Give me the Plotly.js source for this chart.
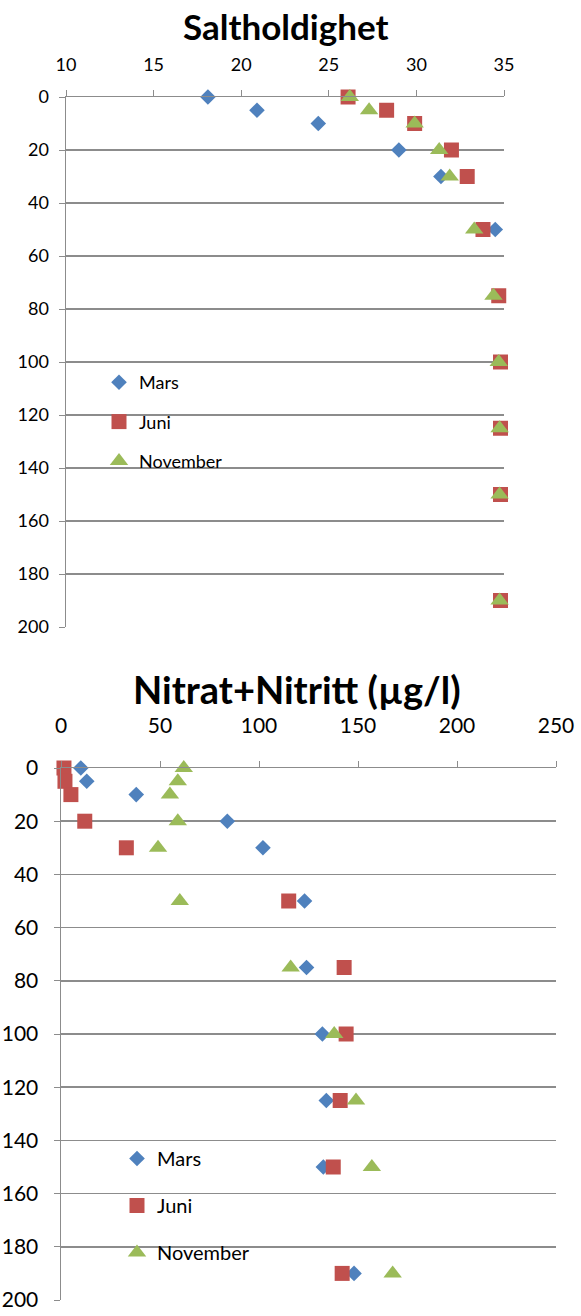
<!DOCTYPE html>
<html><head><meta charset="utf-8">
<script src="https://cdn.plot.ly/plotly-3.0.1.min.js"></script>
<style>html,body{margin:0;padding:0;background:#fff}#chart{width:581px;height:1316px}</style>
</head><body><div id="chart"></div>
<script>
// Saltholdighet (salinity) by depth
const saltDepthMars = [0, 5, 10, 20, 30, 50];
const saltMars = [18.1, 20.9, 24.4, 29.0, 31.4, 34.5];
const saltDepthJuni = [0, 5, 10, 20, 30, 50, 75, 100, 125, 150, 190];
const saltJuni = [26.1, 28.3, 29.9, 32.0, 32.9, 33.8, 34.7, 34.8, 34.8, 34.8, 34.8];
const saltDepthNov = [0, 5, 10, 20, 30, 50, 75, 100, 125, 150, 190];
const saltNov = [26.2, 27.3, 29.9, 31.3, 31.9, 33.3, 34.4, 34.7, 34.75, 34.75, 34.75];

// Nitrat+Nitritt by depth
const nitDepth = [0, 5, 10, 20, 30, 50, 75, 100, 125, 150, 190];
const nitMars = [10, 13, 38, 84, 102, 123, 124, 132, 134, 132.5, 148];
const nitJuni = [1.5, 2, 5, 12, 33, 115, 143, 144, 141, 137.5, 142];
const nitNov = [62, 59, 55, 59, 49, 60, 116, 138, 149, 157, 167.5];

const seriesNames = ['Mars', 'Juni', 'November'];
const colors = ['#4F81BD', '#C0504D', '#9BBB59'];
const symbols = ['diamond', 'square', 'triangle-up'];
const sizes = [12, 15, 16];

const W = 581, H = 1316;
const FAM = 'Lato, Roboto, sans-serif';
const gridCol = '#8c8c8c';

function tr(x, y, i, xa, ya, leg) {
  return {
    x: x, y: y, type: 'scatter', mode: 'markers', name: seriesNames[i],
    xaxis: xa, yaxis: ya, legend: leg, legendgroup: leg + i, showlegend: true,
    cliponaxis: false,
    marker: {symbol: symbols[i], color: colors[i], size: sizes[i], line: {width: 0}},
    hoverinfo: 'x+y'
  };
}

const data = [
  tr(saltMars, saltDepthMars, 0, 'x', 'y', 'legend'),
  tr(saltJuni, saltDepthJuni, 1, 'x', 'y', 'legend'),
  tr(saltNov, saltDepthNov, 2, 'x', 'y', 'legend'),
  tr(nitMars, nitDepth, 0, 'x2', 'y2', 'legend2'),
  tr(nitJuni, nitDepth, 1, 'x2', 'y2', 'legend2'),
  tr(nitNov, nitDepth, 2, 'x2', 'y2', 'legend2')
];

function xax(dom, range, dtick, anchor, fs, standoff) {
  return {domain: dom, range: range, dtick: dtick, tick0: 0, side: 'top', anchor: anchor,
    showline: true, linecolor: gridCol, linewidth: 1.5, ticks: 'outside', ticklen: 6, tickcolor: gridCol,
    showgrid: false, zeroline: false, tickfont: {family: FAM, size: fs, color: '#000'},
    ticklabelstandoff: standoff, fixedrange: true};
}
function yax(dom, anchor, fs, standoff) {
  return {domain: dom, range: [200, 0], dtick: 20, tick0: 0, anchor: anchor,
    showline: true, linecolor: gridCol, linewidth: 1.5, ticks: 'outside', ticklen: 6, tickcolor: gridCol,
    showgrid: true, gridcolor: gridCol, gridwidth: 1.5, zeroline: false,
    tickfont: {family: FAM, size: fs, color: '#000'}, ticklabelstandoff: standoff, fixedrange: true};
}

const layout = {
  width: W, height: H,
  margin: {l: 0, r: 0, t: 0, b: 0},
  paper_bgcolor: '#fff', plot_bgcolor: 'rgba(0,0,0,0)',
  showlegend: true,
  xaxis: xax([66 / W, 504 / W], [10, 35], 5, 'y', 18, 11),
  yaxis: yax([1 - 627 / H, 1 - 97 / H], 'x', 18, 6),
  xaxis2: xax([61 / W, 556 / W], [0, 250], 50, 'y2', 21, 19),
  yaxis2: yax([1 - 1300 / H, 1 - 768 / H], 'x2', 21, 11),
  legend: {x: 99 / W, y: 1 - 364 / H, xanchor: 'left', yanchor: 'top', bgcolor: 'rgba(0,0,0,0)',
    traceorder: 'grouped', tracegroupgap: 13, font: {family: FAM, size: 18, color: '#000'}},
  legend2: {x: 117 / W, y: 1 - 1139 / H, xanchor: 'left', yanchor: 'top', bgcolor: 'rgba(0,0,0,0)',
    traceorder: 'grouped', tracegroupgap: 18, font: {family: FAM, size: 20, color: '#000'}},
  annotations: [
    {text: 'Saltholdighet', xref: 'paper', yref: 'paper', x: 286 / W, y: 1 - 26 / H,
      xanchor: 'center', yanchor: 'middle', showarrow: false,
      font: {family: FAM, size: 35, color: '#000', weight: 'bold'}},
    {text: 'Nitrat+Nitritt (µg/l)', xref: 'paper', yref: 'paper', x: 297 / W, y: 1 - 689 / H,
      xanchor: 'center', yanchor: 'middle', showarrow: false,
      font: {family: FAM, size: 38, color: '#000', weight: 'bold'}}
  ]
};

Plotly.newPlot('chart', data, layout, {displayModeBar: false, staticPlot: true});
</script>
</body></html>
